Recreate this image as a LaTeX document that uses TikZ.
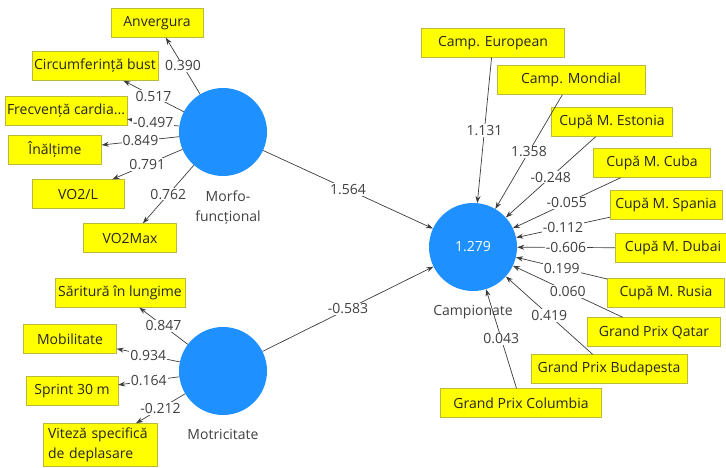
\documentclass[tikz,border=0pt]{standalone}
\usepackage{fontspec}
\setmainfont{Open Sans}
\usepackage{tikz}
\usetikzlibrary{arrows.meta, positioning}

\definecolor{lvblue}{RGB}{30,144,255}
\definecolor{indyellow}{RGB}{255,255,0}
\definecolor{indborder}{RGB}{185,185,60}
\definecolor{linegray}{RGB}{60,60,60}

\begin{document}
\begin{tikzpicture}[
    x=1pt, y=-1pt,
    font=\fontsize{14}{20}\selectfont,
    construct/.style={circle, fill=lvblue, minimum size=88pt, inner sep=0pt, text=white},
    indicator/.style={rectangle, draw=indborder, fill=indyellow, minimum width=92pt, minimum height=29pt, inner xsep=2pt, inner ysep=0pt, text=black!85},
    conname/.style={text=black!75, align=center, inner sep=0pt},
    weight/.style={fill=white, inner sep=1pt, text=black!75},
    arrow/.style={-{Stealth[length=7pt, width=5pt]}, draw=linegray, line width=0.7pt}
]
\useasboundingbox (0,0) rectangle (726,468);

% latent variables
\node[construct] (mf) at (223,132) {};
\node[construct] (mot) at (223,371) {};
\node[construct] (camp) at (473,247) {1.279};

\node[conname, below=14pt of mf, xshift=5pt] (mfname) {Morfo-\\funcțional};
\node[conname, below=14pt of mot] (motname) {Motricitate};
\node[conname, below=14pt of camp] (campname) {Campionate};

% Morfo-functional indicators
\node[indicator] (anv) at (157,23) {Anvergura};
\node[indicator, minimum width=124pt] (circ) at (95,66) {Circumferință bust};
\node[indicator, minimum width=121pt] (frecv) at (66,111) {Frecvență cardia...};
\node[indicator, minimum width=93pt] (inalt) at (55,150) {Înălțime};
\node[indicator] (vol) at (78,194) {VO2/L};
\node[indicator, minimum width=93pt] (vomax) at (130,238) {VO2Max};

% Motricitate indicators
\node[indicator, minimum width=130pt] (sarit) at (120,293) {Săritură în lungime};
\node[indicator, minimum width=93pt] (mobil) at (70,339) {Mobilitate};
\node[indicator] (sprint) at (72,391) {Sprint 30 m};
\node[indicator, minimum width=114pt, minimum height=43pt, align=left, text width=104pt] (viteza) at (100,445) {Viteză specifică\\de deplasare};

% Campionate indicators
\node[indicator, minimum width=143pt] (ceu) at (493,43) {Camp. European};
\node[indicator, minimum width=148pt] (cmon) at (571,80) {Camp. Mondial};
\node[indicator, minimum width=121pt] (cest) at (612,122) {Cupă M. Estonia};
\node[indicator, minimum width=117pt] (ccub) at (652,163) {Cupă M. Cuba};
\node[indicator, minimum width=112pt] (cspa) at (666,205) {Cupă M. Spania};
\node[indicator, minimum width=116pt] (cdub) at (673,248) {Cupă M. Dubai};
\node[indicator, minimum width=117pt] (crus) at (666,293) {Cupă M. Rusia};
\node[indicator, minimum width=133pt] (gpq) at (654,332) {Grand Prix Qatar};
\node[indicator, minimum width=156pt] (gpb) at (609,369) {Grand Prix Budapesta};
\node[indicator, minimum width=161pt] (gpc) at (521,403) {Grand Prix Columbia};

% outer loadings
\draw[arrow] (mf) -- node[weight] {0.390} (anv);
\draw[arrow] (mf) -- node[weight] {0.517} (circ);
\draw[arrow] (mf) -- node[weight] {-0.497} (frecv);
\draw[arrow] (mf) -- node[weight] {0.849} (inalt);
\draw[arrow] (mf) -- node[weight] {0.791} (vol);
\draw[arrow] (mf) -- node[weight] {0.762} (vomax);

\draw[arrow] (mot) -- node[weight] {0.847} (sarit);
\draw[arrow] (mot) -- node[weight] {0.934} (mobil);
\draw[arrow] (mot) -- node[weight] {0.164} (sprint);
\draw[arrow] (mot) -- node[weight] {-0.212} (viteza);

% outer weights
\draw[arrow] (ceu) -- node[weight] {1.131} (camp);
\draw[arrow] (cmon) -- node[weight] {1.358} (camp);
\draw[arrow] (cest) -- node[weight] {-0.248} (camp);
\draw[arrow] (ccub) -- node[weight] {-0.055} (camp);
\draw[arrow] (cspa) -- node[weight] {-0.112} (camp);
\draw[arrow] (cdub) -- node[weight] {-0.606} (camp);
\draw[arrow] (crus) -- node[weight] {0.199} (camp);
\draw[arrow] (gpq) -- node[weight] {0.060} (camp);
\draw[arrow] (gpb) -- node[weight] {0.419} (camp);
\draw[arrow] (gpc) -- node[weight] {0.043} (camp);

% path coefficients
\draw[arrow] (mf) -- node[weight] {1.564} (camp);
\draw[arrow] (mot) -- node[weight] {-0.583} (camp);

\end{tikzpicture}
\end{document}
